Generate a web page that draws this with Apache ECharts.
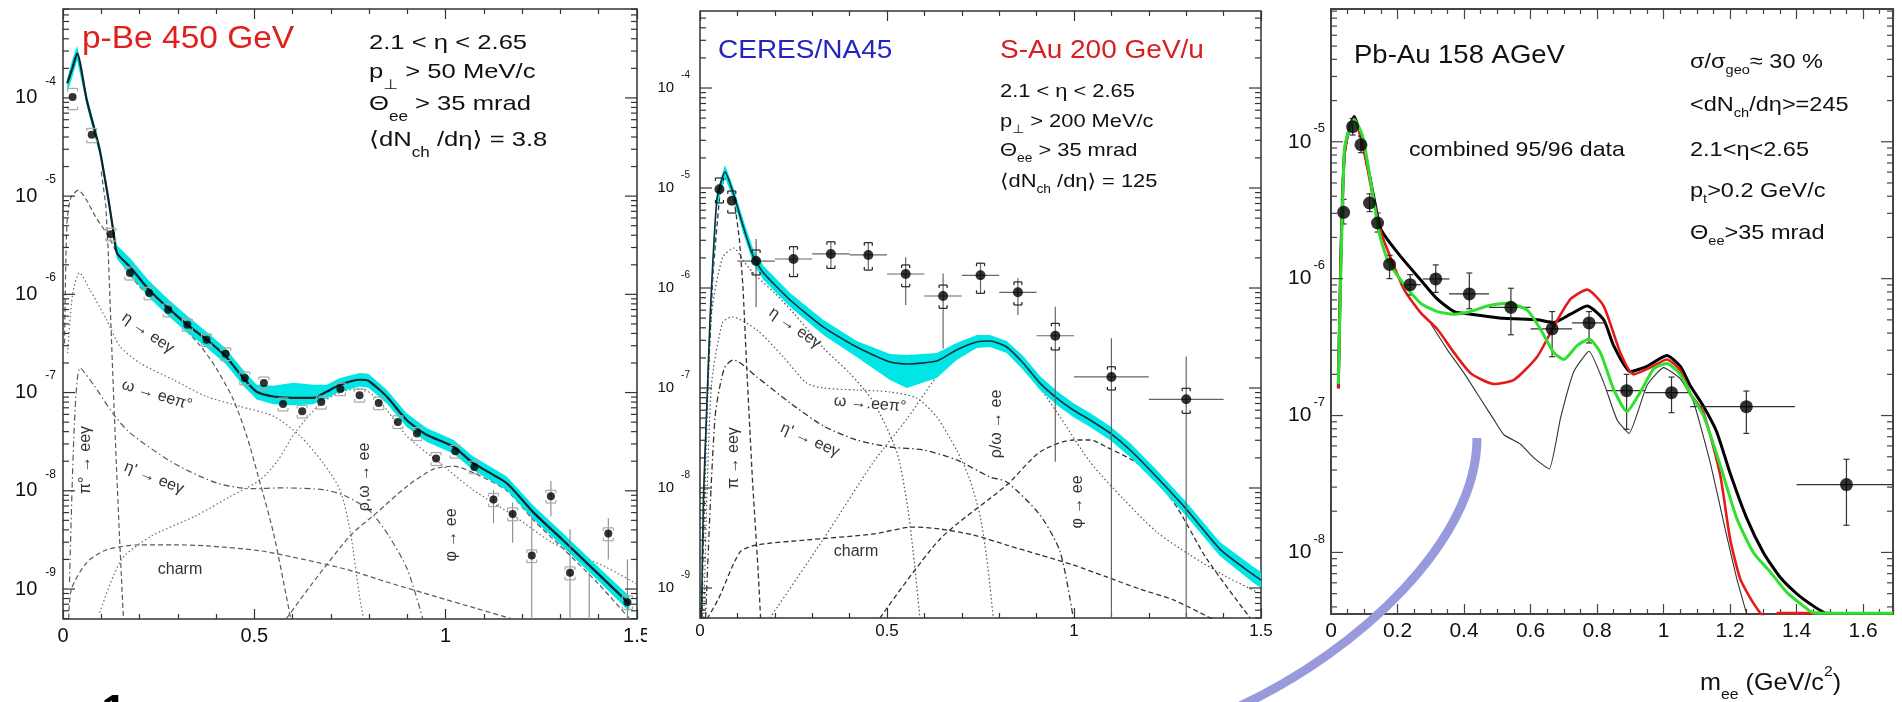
<!DOCTYPE html>
<html><head><meta charset="utf-8">
<script src="https://cdn.jsdelivr.net/npm/echarts@6/dist/echarts.min.js"></script>
<style>html,body{margin:0;padding:0;background:#fff;}#c{width:1902px;height:702px;}</style>
</head><body><div id="c"></div>
<script>
// ---------------- Panel 1 : p-Be 450 GeV ----------------
const p1X = [0.025,0.075,0.125,0.175,0.225,0.275,0.325,0.375,0.425,0.475,0.525,0.575,0.625,0.675,0.725,0.775,0.825,0.875,0.925,0.975,1.025,1.075,1.125,1.175,1.225,1.275,1.325,1.375,1.425,1.475];
const p1Y = [1.02e-4,4.21e-5,4.10e-6,1.65e-6,1.03e-6,6.97e-7,4.90e-7,3.45e-7,2.49e-7,1.41e-7,1.25e-7,7.66e-8,6.46e-8,8.02e-8,1.09e-7,9.38e-8,7.83e-8,5.02e-8,3.82e-8,2.13e-8,2.52e-8,1.75e-8,8.13e-9,5.82e-9,2.19e-9,8.79e-9,1.46e-9,3.0e-10,3.67e-9,7.35e-10];
const p1SysHi = [1.25e-4,4.9e-5,4.7e-6,1.9e-6,1.18e-6,8.0e-7,5.6e-7,3.95e-7,2.85e-7,1.62e-7,1.44e-7,8.8e-8,7.4e-8,9.2e-8,1.25e-7,1.08e-7,9.0e-8,5.8e-8,4.4e-8,2.45e-8,2.9e-8,2.0e-8,9.4e-9,6.7e-9,2.5e-9,1.01e-8,1.68e-9,null,4.2e-9,8.5e-10];
const p1SysLo = [7.6e-5,3.5e-5,3.5e-6,1.4e-6,8.8e-7,5.9e-7,4.2e-7,2.95e-7,2.12e-7,1.2e-7,1.07e-7,6.5e-8,5.5e-8,6.8e-8,9.3e-8,8.0e-8,6.7e-8,4.3e-8,3.25e-8,1.81e-8,2.15e-8,1.49e-8,6.9e-9,4.95e-9,1.86e-9,7.5e-9,1.24e-9,null,3.1e-9,6.2e-10];
const p1StatHi = [null,null,null,null,null,null,null,null,null,null,null,null,null,null,null,null,null,null,null,null,null,null,1.02e-8,7.59e-9,5.5e-9,1.26e-8,4.07e-9,1.48e-9,5.25e-9,2.0e-9];
const p1StatLo = [null,null,null,null,null,null,null,null,null,null,null,null,null,null,null,null,null,null,null,null,null,null,4.68e-9,2.95e-9,1e-10,5.5e-9,1e-10,1e-10,2.0e-9,1e-10];
const p1TotX = [0.011,0.025,0.037,0.062,0.096,0.119,0.132,0.141,0.175,0.224,0.275,0.325,0.375,0.425,0.471,0.506,0.55,0.602,0.654,0.689,0.724,0.776,0.798,0.846,0.898,0.95,1.02,1.072,1.159,1.229,1.306,1.40,1.48];
const p1Tot = [1.41e-4,2.04e-4,2.85e-4,9.55e-5,2.95e-5,9.12e-6,4.27e-6,2.63e-6,1.91e-6,1.12e-6,7.24e-7,4.90e-7,3.47e-7,2.34e-7,1.41e-7,1.02e-7,9.12e-8,8.81e-8,8.81e-8,1.02e-7,1.20e-7,1.35e-7,1.32e-7,9.12e-8,5.25e-8,3.72e-8,2.82e-8,1.91e-8,1.20e-8,6.03e-9,3.16e-9,1.41e-9,7.08e-10];
const p1BandLo = [1.12e-4,1.66e-4,2.40e-4,8.32e-5,2.63e-5,8.13e-6,3.80e-6,2.29e-6,1.58e-6,9.33e-7,6.03e-7,4.07e-7,2.88e-7,1.95e-7,1.17e-7,8.51e-8,7.59e-8,7.41e-8,7.59e-8,8.71e-8,1.02e-7,1.15e-7,1.12e-7,7.76e-8,4.47e-8,3.16e-8,2.40e-8,1.62e-8,1.02e-8,5.13e-9,2.69e-9,1.20e-9,5.89e-10];
const p1BandHi = [1.58e-4,2.51e-4,3.39e-4,1.07e-4,3.31e-5,1.02e-5,4.79e-6,3.16e-6,2.34e-6,1.38e-6,8.91e-7,6.03e-7,4.17e-7,2.82e-7,1.70e-7,1.20e-7,1.17e-7,1.26e-7,1.20e-7,1.20e-7,1.41e-7,1.58e-7,1.55e-7,1.07e-7,6.17e-8,4.37e-8,3.31e-8,2.24e-8,1.41e-8,7.08e-9,3.72e-9,1.66e-9,8.51e-10];
const p1Pi0X = [0.10,0.112,0.118,0.128,0.138,0.148,0.158];
const p1Pi0 = [1.78e-5,7.94e-6,2.82e-6,2.51e-7,2.51e-8,3.16e-9,5.01e-10];
const p1EtaX = [0.004,0.01,0.02,0.04,0.06,0.085,0.119,0.15,0.2,0.28,0.358,0.40,0.445,0.48,0.515,0.55,0.585,0.6];
const p1Eta = [3.16e-7,5.01e-6,9.55e-6,1.15e-5,9.33e-6,6.17e-6,3.89e-6,2.24e-6,1.20e-6,6.31e-7,3.02e-7,1.78e-7,8.51e-8,3.63e-8,1.20e-8,3.72e-9,7.94e-10,3.98e-10];
const p1OmDX = [0.012,0.025,0.043,0.07,0.114,0.149,0.201,0.288,0.375,0.462,0.55,0.619,0.68,0.724,0.75,0.776,0.79];
const p1OmD = [2.51e-7,1.0e-6,1.66e-6,1.12e-6,5.50e-7,2.95e-7,2.0e-7,1.35e-7,9.12e-8,7.24e-8,5.75e-8,3.63e-8,1.91e-8,1.02e-8,3.98e-9,7.94e-10,3.98e-10];
const p1EtapX = [0.017,0.03,0.045,0.08,0.13,0.175,0.289,0.402,0.493,0.572,0.685,0.742,0.8,0.85,0.9,0.94];
const p1Etap = [1.17e-9,5.01e-8,1.78e-7,1.20e-7,6.17e-8,3.89e-8,1.91e-8,1.20e-8,1.05e-8,1.07e-8,1.02e-8,8.71e-9,6.31e-9,3.55e-9,1.58e-9,5.01e-10];
const p1RhoX = [0.096,0.153,0.232,0.345,0.436,0.515,0.56,0.606,0.674,0.73,0.78,0.83,0.898,0.985,1.072,1.18,1.28,1.42,1.5];
const p1Rho = [5.75e-10,2.0e-9,3.47e-9,5.50e-9,8.71e-9,1.29e-8,2.0e-8,3.89e-8,7.76e-8,1.02e-7,1.10e-7,7.94e-8,3.63e-8,1.91e-8,1.02e-8,5.50e-9,2.95e-9,1.66e-9,1.12e-9];
const p1PhiX = [0.584,0.65,0.75,0.821,0.9,0.968,1.02,1.08,1.16,1.23,1.31,1.4,1.48];
const p1Phi = [5.01e-10,1.12e-9,3.47e-9,6.03e-9,1.12e-8,1.66e-8,1.78e-8,1.48e-8,1.0e-8,5.01e-9,2.51e-9,1.12e-9,5.01e-10];
const p1CharmX = [0.015,0.022,0.062,0.114,0.2,0.289,0.375,0.515,0.629,0.742,0.855,0.968,1.082,1.17];
const p1Charm = [5.01e-10,1.0e-9,1.86e-9,2.51e-9,2.82e-9,2.82e-9,2.75e-9,2.45e-9,2.0e-9,1.58e-9,1.15e-9,8.51e-10,6.31e-10,5.01e-10];
const p1TickExps = [-10,-9,-8,-7,-6,-5,-4,-3];

// ---------------- Panel 2 : S-Au 200 GeV/u ----------------
const p2X = [0.052,0.085,0.15,0.25,0.35,0.45,0.55,0.65,0.75,0.85,0.95,1.1,1.3];
const p2Y = [9.7e-6,7.46e-6,1.86e-6,1.95e-6,2.19e-6,2.14e-6,1.38e-6,8.32e-7,1.34e-6,9.06e-7,3.33e-7,1.29e-7,7.71e-8];
const p2XLo = [null,null,0.1,0.2,0.3,0.4,0.5,0.6,0.7,0.8,0.9,1.0,1.2];
const p2XHi = [null,null,0.2,0.3,0.4,0.5,0.6,0.7,0.8,0.9,1.0,1.2,1.4];
const p2StatLo = [null,null,6.46e-7,1.30e-6,1.57e-6,1.51e-6,6.76e-7,2.49e-7,8.85e-7,5.37e-7,1.83e-8,1e-10,1e-10];
const p2StatHi = [null,null,3.09e-6,2.59e-6,2.90e-6,2.84e-6,2.03e-6,1.40e-6,1.77e-6,1.25e-6,6.50e-7,3.14e-7,2.06e-7];
const p2SysLo = [7.08e-6,5.62e-6,1.35e-6,1.30e-6,1.57e-6,1.51e-6,1.03e-6,6.26e-7,8.85e-7,6.76e-7,2.40e-7,9.55e-8,5.58e-8];
const p2SysHi = [1.26e-5,9.33e-6,2.40e-6,2.59e-6,2.90e-6,2.84e-6,1.70e-6,1.07e-6,1.77e-6,1.15e-6,4.43e-7,1.63e-7,9.93e-8];
const p2TotX = [0.004,0.009,0.018,0.027,0.045,0.067,0.089,0.116,0.143,0.17,0.241,0.33,0.419,0.508,0.553,0.633,0.686,0.74,0.775,0.82,0.864,0.909,0.954,0.998,1.043,1.096,1.15,1.221,1.30,1.39,1.48,1.5];
const p2Tot = [5.01e-10,7.59e-9,6.31e-8,5.13e-7,7.59e-6,1.45e-5,8.91e-6,4.07e-6,2.04e-6,1.41e-6,7.59e-7,4.07e-7,2.57e-7,1.82e-7,1.74e-7,1.86e-7,2.40e-7,2.88e-7,2.95e-7,2.57e-7,1.78e-7,1.12e-7,7.94e-8,6.03e-8,4.79e-8,3.55e-8,2.40e-8,1.29e-8,6.17e-9,2.45e-9,1.35e-9,1.20e-9];
const p2BandLo = [3.98e-10,5.62e-9,5.01e-8,4.17e-7,6.31e-6,1.26e-5,7.76e-6,3.47e-6,1.74e-6,1.20e-6,6.46e-7,3.39e-7,2.04e-7,1.20e-7,1.0e-7,1.26e-7,1.91e-7,2.51e-7,2.57e-7,2.24e-7,1.51e-7,9.55e-8,6.76e-8,5.13e-8,4.07e-8,3.02e-8,2.04e-8,1.10e-8,5.25e-9,2.09e-9,1.12e-9,1.0e-9];
const p2BandHi = [6.31e-10,1.0e-8,7.94e-8,6.31e-7,9.12e-6,1.70e-5,1.02e-5,4.79e-6,2.40e-6,1.66e-6,8.91e-7,4.79e-7,2.95e-7,2.19e-7,2.14e-7,2.24e-7,2.82e-7,3.39e-7,3.39e-7,2.95e-7,2.09e-7,1.32e-7,9.33e-8,7.08e-8,5.62e-8,4.17e-8,2.82e-8,1.51e-8,7.24e-9,2.88e-9,1.62e-9,1.45e-9];
const p2Pi0X = [0.005,0.012,0.02,0.035,0.055,0.07,0.09,0.105,0.115,0.125,0.14,0.155,0.162];
const p2Pi0 = [5.01e-10,1.26e-8,8.91e-8,1.41e-6,1.0e-5,1.26e-5,7.94e-6,3.16e-6,1.0e-6,1.58e-7,1.26e-8,1.58e-9,5.01e-10];
const p2EtaX = [0.01,0.03,0.06,0.09,0.12,0.15,0.2,0.25,0.33,0.40,0.464,0.526,0.553,0.57,0.588];
const p2Eta = [3.16e-9,5.01e-7,2.0e-6,2.51e-6,1.78e-6,1.32e-6,8.91e-7,5.62e-7,2.51e-7,1.41e-7,7.24e-8,2.29e-8,7.24e-9,2.29e-9,5.01e-10];
const p2OmDX = [0.01,0.03,0.06,0.085,0.152,0.223,0.285,0.33,0.419,0.508,0.579,0.633,0.686,0.72,0.75,0.77,0.784];
const p2OmD = [5.01e-10,1.0e-7,4.47e-7,5.13e-7,3.80e-7,2.04e-7,1.12e-7,1.0e-7,9.55e-8,9.12e-8,7.94e-8,5.13e-8,2.40e-8,1.26e-8,5.01e-9,1.58e-9,5.01e-10];
const p2EtapX = [0.015,0.04,0.065,0.089,0.152,0.241,0.33,0.419,0.508,0.597,0.686,0.775,0.82,0.909,0.963,0.998];
const p2Etap = [5.01e-10,5.01e-8,1.58e-7,1.91e-7,1.29e-7,7.08e-8,4.17e-8,3.02e-8,2.57e-8,2.40e-8,1.91e-8,1.29e-8,1.15e-8,5.37e-9,2.29e-9,5.01e-10];
const p2RhoX = [0.187,0.33,0.464,0.553,0.642,0.70,0.758,0.80,0.864,0.954,1.043,1.132,1.221,1.31,1.399,1.489];
const p2Rho = [5.01e-10,3.09e-9,1.82e-8,4.90e-8,1.45e-7,2.40e-7,2.82e-7,2.63e-7,1.66e-7,5.75e-8,1.82e-8,7.76e-9,3.63e-9,2.14e-9,1.35e-9,9.12e-10];
const p2PhiX = [0.481,0.642,0.82,0.909,0.998,1.043,1.087,1.176,1.266,1.355,1.471];
const p2Phi = [5.01e-10,3.09e-9,1.07e-8,2.29e-8,3.02e-8,3.02e-8,2.57e-8,1.70e-8,7.24e-9,1.95e-9,5.01e-10];
const p2CharmX = [0.008,0.049,0.107,0.151,0.285,0.464,0.57,0.642,0.731,0.82,0.909,0.998,1.087,1.176,1.266,1.37];
const p2Charm = [4.17e-10,7.76e-10,2.29e-9,2.69e-9,3.02e-9,3.47e-9,4.07e-9,3.89e-9,3.39e-9,2.69e-9,2.14e-9,1.70e-9,1.29e-9,9.77e-10,7.59e-10,4.90e-10];
const p2TickExps = [-10,-9,-8,-7,-6,-5,-4,-3];

// ---------------- Panel 3 : Pb-Au 158 AGeV ----------------
const p3X = [0.038,0.065,0.09,0.116,0.14,0.176,0.238,0.315,0.416,0.541,0.665,0.776,0.889,1.024,1.249,1.55];
const p3Y = [3.05e-6,1.29e-5,9.51e-6,3.57e-6,2.55e-6,1.27e-6,9.04e-7,9.95e-7,7.73e-7,6.17e-7,4.30e-7,4.75e-7,1.52e-7,1.47e-7,1.16e-7,3.13e-8];
const p3Lo = [2.51e-6,1.12e-5,8.32e-6,3.09e-6,2.19e-6,1.0e-6,7.59e-7,7.94e-7,6.03e-7,3.89e-7,2.69e-7,3.39e-7,7.94e-8,1.05e-7,7.41e-8,1.58e-8];
const p3Hi = [3.80e-6,1.48e-5,1.10e-5,4.17e-6,3.02e-6,1.48e-6,1.07e-6,1.26e-6,1.10e-6,8.51e-7,5.75e-7,5.75e-7,2.0e-7,1.91e-7,1.51e-7,4.79e-8];
const p3XLo = [null,null,null,null,null,null,0.21,0.276,0.355,0.475,0.6,0.725,0.83,0.945,1.08,1.40];
const p3XHi = [null,null,null,null,null,null,0.27,0.356,0.475,0.6,0.725,0.83,0.945,1.08,1.395,1.70];
const p3BlackX = [0.022,0.03,0.04,0.055,0.07,0.1,0.13,0.15,0.2,0.27,0.32,0.37,0.42,0.52,0.62,0.67,0.72,0.77,0.82,0.85,0.90,0.95,1.01,1.05,1.08,1.12,1.16,1.2,1.25,1.3,1.35,1.4,1.45,1.49];
const p3Black = [1.58e-7,1.58e-6,7.94e-6,1.26e-5,1.53e-5,8.71e-6,3.80e-6,2.29e-6,1.55e-6,9.77e-7,7.08e-7,5.75e-7,5.50e-7,5.13e-7,5.01e-7,4.79e-7,5.50e-7,6.31e-7,5.01e-7,3.24e-7,2.09e-7,2.29e-7,2.75e-7,2.29e-7,1.66e-7,1.17e-7,7.59e-8,3.80e-8,1.78e-8,1.0e-8,6.61e-9,5.01e-9,4.07e-9,3.55e-9];
const p3RedX = [0.022,0.03,0.04,0.055,0.07,0.1,0.13,0.15,0.17,0.22,0.27,0.32,0.37,0.42,0.49,0.55,0.62,0.67,0.72,0.77,0.82,0.87,0.91,0.96,1.01,1.05,1.08,1.12,1.17,1.20,1.23,1.26,1.29,1.31];
const p3Red = [1.58e-7,1.58e-6,7.94e-6,1.26e-5,1.48e-5,8.32e-6,3.55e-6,2.19e-6,1.62e-6,8.32e-7,5.62e-7,4.27e-7,2.88e-7,2.04e-7,1.70e-7,1.82e-7,2.69e-7,4.47e-7,7.08e-7,8.32e-7,6.31e-7,2.88e-7,2.0e-7,2.24e-7,2.57e-7,2.14e-7,1.45e-7,1.05e-7,3.72e-8,1.26e-8,6.46e-9,4.68e-9,3.63e-9,3.16e-9];
const p3RedFlatX = [1.34,1.50];
const p3RedFlat = [3.6e-9,3.6e-9];
const p3GreenX = [0.022,0.04,0.055,0.07,0.095,0.12,0.145,0.17,0.21,0.27,0.32,0.37,0.42,0.47,0.53,0.59,0.63,0.67,0.70,0.74,0.776,0.81,0.85,0.89,0.93,0.97,1.01,1.05,1.08,1.12,1.17,1.22,1.27,1.32,1.37,1.42,1.45,1.5,1.69];
const p3Green = [1.70e-7,8.71e-6,1.23e-5,1.45e-5,1.10e-5,5.01e-6,2.14e-6,1.38e-6,9.77e-7,6.61e-7,5.75e-7,5.50e-7,5.75e-7,6.31e-7,6.61e-7,5.89e-7,4.27e-7,2.88e-7,2.57e-7,3.24e-7,3.63e-7,2.88e-7,1.55e-7,1.07e-7,1.48e-7,2.19e-7,2.40e-7,2.0e-7,1.45e-7,1.0e-7,4.37e-8,1.78e-8,1.0e-8,7.24e-9,5.13e-9,4.07e-9,3.63e-9,3.6e-9,3.6e-9];
const p3ThinX = [0.30,0.35,0.40,0.45,0.49,0.52,0.57,0.61,0.656,0.69,0.73,0.776,0.82,0.86,0.896,0.95,1.0,1.05,1.09,1.14,1.19,1.22,1.25];
const p3Thin = [4.68e-7,3.02e-7,2.04e-7,1.32e-7,9.33e-8,7.24e-8,6.17e-8,4.90e-8,4.07e-8,9.55e-8,2.09e-7,2.95e-7,1.74e-7,9.33e-8,7.41e-8,1.66e-7,2.24e-7,1.86e-7,1.26e-7,4.57e-8,1.32e-8,6.46e-9,3.55e-9];
const p3TickExps = [-9,-8,-7,-6,-5,-4];

// ---------------- helpers ----------------
const FF = '"Liberation Sans", Arial, "DejaVu Sans", sans-serif';
const DASH = [5,3], DOT = [1.5,2.5], DASHDOT = [6,3,1.5,3];
function zip(xs, ys){ return xs.map((x,i)=>[x, ys[i]]); }
function curve(gi, xs, ys, color, width, dash, z, smooth){
  return {type:'line', xAxisIndex:gi*2, yAxisIndex:gi, data:zip(xs,ys), symbol:'none', showSymbol:false,
    smooth:(smooth===undefined?0.25:smooth), clip:true, silent:true, z:z||2,
    lineStyle:{color:color, width:width, type:dash||'solid'}};
}
function bandSeries(gi, xs, lo, hi, color){
  return {type:'custom', xAxisIndex:gi*2, yAxisIndex:gi, data:[[xs[0], hi[0]]], clip:true, silent:true, z:3,
    renderItem:function(params, api){
      const cs = params.coordSys;
      const cy = v => Math.max(cs.y, Math.min(cs.y+cs.height, v));
      const pts = [];
      xs.forEach((x,i)=>{ const p = api.coord([x, hi[i]]); pts.push([p[0], cy(p[1])]); });
      for(let i=xs.length-1;i>=0;i--){ const p = api.coord([xs[i], lo[i]]); pts.push([p[0], cy(p[1])]); }
      return {type:'polygon', shape:{points:pts}, style:{fill:color}};
    }};
}
function errSeries(gi, rows, cfg){
  return {type:'custom', xAxisIndex:gi*2, yAxisIndex:gi, data:rows, clip:true, silent:true, z:5,
    renderItem:function(params, api){
      const cs = params.coordSys;
      const cy = v => Math.max(cs.y, Math.min(cs.y+cs.height, v));
      const cx = v => Math.max(cs.x, Math.min(cs.x+cs.width, v));
      const x=api.value(0), y=api.value(1), lo=api.value(2), hi=api.value(3), xl=api.value(4), xh=api.value(5), sl=api.value(6), sh=api.value(7);
      const p = api.coord([x,y]); const ch = [];
      const L = (x1,y1,x2,y2,st)=>ch.push({type:'line', shape:{x1:x1,y1:y1,x2:x2,y2:y2}, style:st});
      const sst = {stroke:cfg.statColor, lineWidth:cfg.statW};
      if(lo>0 && hi>0){
        const a = cy(api.coord([x,hi])[1]), b = cy(api.coord([x,lo])[1]);
        L(p[0],a,p[0],b,sst);
        if(cfg.cap){ L(p[0]-cfg.cap,a,p[0]+cfg.cap,a,sst); L(p[0]-cfg.cap,b,p[0]+cfg.cap,b,sst); }
      }
      if(xl>=0 && xh>0 && p[1]>=cs.y && p[1]<=cs.y+cs.height){
        const a = cx(api.coord([xl,y])[0]), b = cx(api.coord([xh,y])[0]);
        L(a,p[1],b,p[1],sst);
      }
      if(sl>0 && sh>0){
        const a = api.coord([x,sh])[1], b = api.coord([x,sl])[1];
        const w = cfg.sysW, t = cfg.sysLeg, bst = {stroke:cfg.sysColor, lineWidth:1.2};
        L(p[0]-w,a,p[0]+w,a,bst); L(p[0]-w,a,p[0]-w,a+t,bst); L(p[0]+w,a,p[0]+w,a+t,bst);
        L(p[0]-w,b,p[0]+w,b,bst); L(p[0]-w,b,p[0]-w,b-t,bst); L(p[0]+w,b,p[0]+w,b-t,bst);
      }
      return {type:'group', children:ch};
    }};
}
function yTickSeries(gi, xv, yv, exps, color){
  return {type:'custom', xAxisIndex:gi*2, yAxisIndex:gi, data:[[xv, yv]], silent:true, z:10,
    renderItem:function(params, api){
      const cs = params.coordSys; const ch = [];
      exps.forEach(e=>{
        for(let k=1;k<=9;k++){
          const y = api.coord([xv, k*Math.pow(10,e)])[1];
          if(y < cs.y-0.5 || y > cs.y+cs.height+0.5) continue;
          const len = (k===1)?12:6;
          ch.push({type:'line', shape:{x1:cs.x, y1:y, x2:cs.x+len, y2:y}, style:{stroke:color, lineWidth:1.2}});
          ch.push({type:'line', shape:{x1:cs.x+cs.width, y1:y, x2:cs.x+cs.width-len, y2:y}, style:{stroke:color, lineWidth:1.2}});
        }
      });
      return {type:'group', children:ch};
    }};
}
function scatter(gi, xs, ys, size){
  return {type:'scatter', xAxisIndex:gi*2, yAxisIndex:gi, data:zip(xs,ys), symbol:'circle', symbolSize:size,
    itemStyle:{color:'#000'}, clip:true, silent:true, z:6};
}
function xAx(gi, max, interval, minorSplit, fs, pos, showLabel, margin, showMax, color){
  return {type:'value', gridIndex:gi, position:pos, min:0, max:max, interval:interval,
    axisLine:{show:false}, splitLine:{show:false},
    axisTick:{show:true, inside:true, length:10, lineStyle:{color:color, width:1.2}},
    minorTick:{show:true, splitNumber:minorSplit, length:5, lineStyle:{color:color, width:1.2}},
    minorSplitLine:{show:false},
    axisLabel:{show:showLabel, fontSize:fs, fontFamily:FF, color:'#111', margin:margin, showMinLabel:true, showMaxLabel:showMax}};
}
function yAx(gi, min, max, fs, sup, gap, margin, lh){
  return {type:'log', logBase:10, gridIndex:gi, min:min, max:max,
    axisLine:{show:false}, axisTick:{show:false}, splitLine:{show:false}, minorTick:{show:false},
    axisLabel:{margin:margin, showMinLabel:false, showMaxLabel:false,
      formatter:function(v){ return '{b|10}{s|' + Math.round(Math.log10(v)) + '}'; },
      rich:{b:{fontSize:fs, fontFamily:FF, color:'#111', lineHeight:lh},
            s:{fontSize:sup, fontFamily:FF, color:'#111', verticalAlign:'top', padding:[0,0,0,gap]}}}};
}
function txt(x, y, text, o){
  o = o || {};
  const col = o.color || '#111';
  const rich = {
    n:{fontSize:o.size, fontFamily:FF, fill:col, lineHeight:o.lh || Math.round(o.size*1.3)},
    s:{fontSize:o.sub || 12, fontFamily:FF, fill:col, verticalAlign:'bottom'},
    p:{fontSize:o.sub || 12, fontFamily:FF, fill:col, verticalAlign:'top'}
  };
  return {type:'text', x:x, y:y, rotation:o.rot || 0, scaleX:o.sx || 1, z:100, silent:true,
    style:{text:text, rich:rich, fontSize:o.size, fontFamily:FF, fill:col,
      align:o.align || 'left', verticalAlign:'middle', textAlign:o.align || 'left', textVerticalAlign:'middle'}};
}
const RAD = Math.PI/180;
const rows1 = p1X.map((x,i)=>[x, p1Y[i], p1StatLo[i], p1StatHi[i], null, null, p1SysLo[i], p1SysHi[i]]);
const rows2 = p2X.map((x,i)=>[x, p2Y[i], p2StatLo[i], p2StatHi[i], p2XLo[i], p2XHi[i], p2SysLo[i], p2SysHi[i]]);
const rows3 = p3X.map((x,i)=>[x, p3Y[i], p3Lo[i], p3Hi[i], p3XLo[i], p3XHi[i], null, null]);

const C1 = '#5a5a5a', C2 = '#333333';
const CYAN = '#00e6e6';

const option = {
  animation:false,
  backgroundColor:'#ffffff',
  grid:[
    {left:63, top:9, width:574, height:610, show:true, borderColor:'#333', borderWidth:1.5, backgroundColor:'rgba(0,0,0,0)'},
    {left:700, top:11, width:561, height:607, show:true, borderColor:'#333', borderWidth:1.5, backgroundColor:'rgba(0,0,0,0)'},
    {left:1331, top:9, width:562, height:605, show:true, borderColor:'#444', borderWidth:2, backgroundColor:'rgba(0,0,0,0)'}
  ],
  xAxis:[
    xAx(0, 1.5, 0.5, 5, 20, 'bottom', true, 7, true, '#333'),
    xAx(0, 1.5, 0.5, 5, 20, 'top', false, 7, true, '#333'),
    xAx(1, 1.5, 0.5, 5, 17, 'bottom', true, 5, true, '#333'),
    xAx(1, 1.5, 0.5, 5, 17, 'top', false, 5, true, '#333'),
    xAx(2, 1.69, 0.2, 4, 21, 'bottom', true, 7, false, '#444'),
    xAx(2, 1.69, 0.2, 4, 21, 'top', false, 7, false, '#444')
  ],
  yAxis:[
    yAx(0, 4.95e-10, 8.04e-4, 20, 12, 8, 7, 45),
    yAx(1, 5.01e-10, 5.89e-4, 15, 10, 7, 10, 36),
    yAx(2, 3.55e-9, 9.33e-5, 21, 13, 2, 6, 40)
  ],
  series:[
    // panel 1
    curve(0, p1CharmX, p1Charm, C1, 1.2, DASH, 2),
    curve(0, p1PhiX, p1Phi, C1, 1.2, DASH, 2),
    curve(0, p1RhoX, p1Rho, '#6a6a6a', 1.2, DOT, 2),
    curve(0, p1EtapX, p1Etap, C1, 1.2, DASHDOT, 2),
    curve(0, p1OmDX, p1OmD, '#6a6a6a', 1.2, DOT, 2),
    curve(0, p1EtaX, p1Eta, C1, 1.2, DASH, 2),
    curve(0, p1Pi0X, p1Pi0, C1, 1.2, DASH, 2, 0),
    bandSeries(0, p1TotX, p1BandLo, p1BandHi, CYAN),
    curve(0, p1TotX, p1Tot, '#10242a', 2.2, 'solid', 4, 0.2),
    errSeries(0, rows1, {statColor:'#8a8a8a', statW:1.1, sysColor:'#a8a8a8', sysW:5, sysLeg:3}),
    scatter(0, p1X, p1Y, 8),
    yTickSeries(0, 0.5, 1e-6, p1TickExps, '#333'),
    // panel 2
    curve(1, p2CharmX, p2Charm, C2, 1.3, DASH, 2),
    curve(1, p2PhiX, p2Phi, C2, 1.3, DASH, 2),
    curve(1, p2RhoX, p2Rho, '#555', 1.2, DOT, 2),
    curve(1, p2EtapX, p2Etap, C2, 1.3, DASHDOT, 2),
    curve(1, p2OmDX, p2OmD, '#555', 1.2, DOT, 2),
    curve(1, p2EtaX, p2Eta, '#555', 1.3, DOT, 2),
    curve(1, p2Pi0X, p2Pi0, C2, 1.3, DASH, 2, 0.1),
    bandSeries(1, p2TotX, p2BandLo, p2BandHi, CYAN),
    curve(1, p2TotX, p2Tot, '#10303a', 1.6, 'solid', 4, 0.2),
    errSeries(1, rows2, {statColor:'#666', statW:1.2, sysColor:'#222', sysW:4, sysLeg:3}),
    scatter(1, p2X, p2Y, 10),
    yTickSeries(1, 0.5, 1e-6, p2TickExps, '#333'),
    // panel 3
    curve(2, p3ThinX, p3Thin, '#333', 1.1, 'solid', 2, 0.15),
    curve(2, p3BlackX, p3Black, '#000', 3, 'solid', 3, 0.2),
    curve(2, p3RedX, p3Red, '#e31b1b', 2.6, 'solid', 4, 0.2),
    curve(2, p3RedFlatX, p3RedFlat, '#e31b1b', 2.6, 'solid', 4, 0),
    curve(2, p3GreenX, p3Green, '#2fe02f', 3, 'solid', 5, 0.2),
    errSeries(2, rows3, {statColor:'#333', statW:1.2, cap:3, sysColor:'#333', sysW:0, sysLeg:0}),
    scatter(2, p3X, p3Y, 13),
    yTickSeries(2, 0.5, 1e-6, p3TickExps, '#444')
  ],
  graphic:{elements:[
    // panel 1 texts
    txt(82, 39, 'p-Be 450 GeV', {size:31, color:'#e0201c', sx:1.08}),
    txt(369, 43, '{n|2.1 < η < 2.65}', {size:21, sub:14, lh:40, sx:1.22}),
    txt(369, 72, '{n|p}{s|⊥}{n| > 50 MeV/c}', {size:21, sub:14, lh:40, sx:1.22}),
    txt(369, 104, '{n|Θ}{s|ee}{n| > 35 mrad}', {size:21, sub:14, lh:40, sx:1.22}),
    txt(369, 140, '{n|⟨dN}{s|ch}{n| /dη⟩ = 3.8}', {size:21, sub:14, lh:40, sx:1.22}),
    txt(148, 333, 'η → eeγ', {size:16, color:'#333', align:'center', rot:-35*RAD}),
    txt(157, 395, 'ω → eeπ°', {size:16, color:'#333', align:'center', rot:-17*RAD}),
    txt(154, 478, "η' → eeγ", {size:16, color:'#333', align:'center', rot:-22*RAD}),
    txt(86, 460, 'π° → eeγ', {size:16, color:'#333', align:'center', rot:90*RAD}),
    txt(365, 477, 'ρ,ω → ee', {size:16, color:'#333', align:'center', rot:90*RAD}),
    txt(452, 535, 'φ → ee', {size:16, color:'#333', align:'center', rot:90*RAD}),
    txt(180, 570, 'charm', {size:16, color:'#333', align:'center'}),
    // panel 2 texts
    txt(718, 51, 'CERES/NA45', {size:25, color:'#2424c0', sx:1.12}),
    txt(1000, 51, 'S-Au 200 GeV/u', {size:25, color:'#d81e1e', sx:1.12}),
    txt(1000, 92, '{n|2.1 < η < 2.65}', {size:19, sub:12, lh:28, sx:1.15}),
    txt(1000, 122, '{n|p}{s|⊥}{n| > 200 MeV/c}', {size:19, sub:12, lh:28, sx:1.15}),
    txt(1000, 151, '{n|Θ}{s|ee}{n| > 35 mrad}', {size:19, sub:12, lh:28, sx:1.15}),
    txt(1000, 182, '{n|⟨dN}{s|ch}{n| /dη⟩ = 125}', {size:19, sub:12, lh:28, sx:1.15}),
    txt(795, 328, 'η → eeγ', {size:16, color:'#333', align:'center', rot:-35*RAD}),
    txt(870, 404, 'ω →.eeπ°', {size:16, color:'#333', align:'center', rot:-5*RAD}),
    txt(810, 440, "η' → eeγ", {size:16, color:'#333', align:'center', rot:-24*RAD}),
    txt(734, 458, 'π → eeγ', {size:16, color:'#333', align:'center', rot:90*RAD}),
    txt(997, 424, 'ρ/ω → ee', {size:16, color:'#333', align:'center', rot:90*RAD}),
    txt(1078, 502, 'φ → ee', {size:16, color:'#333', align:'center', rot:90*RAD}),
    txt(856, 552, 'charm', {size:16, color:'#333', align:'center'}),
    // panel 3 texts
    txt(1354, 56, 'Pb-Au 158 AGeV', {size:25, sx:1.1}),
    txt(1409, 150, 'combined 95/96 data', {size:21, sx:1.1}),
    txt(1690, 62, '{n|σ/σ}{s|geo}{n|≈ 30 %}', {size:21, sub:13, lh:30, sx:1.12}),
    txt(1690, 105, '{n|<dN}{s|ch}{n|/dη>=245}', {size:21, sub:13, lh:30, sx:1.12}),
    txt(1690, 150, '{n|2.1<η<2.65}', {size:21, sub:13, lh:30, sx:1.12}),
    txt(1690, 191, '{n|p}{s|t}{n|>0.2 GeV/c}', {size:21, sub:13, lh:30, sx:1.12}),
    txt(1690, 233, '{n|Θ}{s|ee}{n|>35 mrad}', {size:21, sub:13, lh:30, sx:1.12}),
    txt(1700, 683, '{n|m}{s|ee}{n| (GeV/c}{p|2}{n|)}', {size:24, sub:15, lh:38, sx:1.05}),
    // image-edge clipping of neighbouring labels
    {type:'rect', shape:{x:647, y:622, width:7, height:32}, style:{fill:'#fff'}, z:150, silent:true},
    {type:'rect', shape:{x:1278, y:60, width:11, height:540}, style:{fill:'#fff'}, z:150, silent:true},
    // decorative overlay stroke and cut-off glyph
    {type:'bezierCurve', shape:{x1:1477, y1:438, cpx1:1477, cpy1:540, cpx2:1360, cpy2:650, x2:1240, y2:706},
      style:{stroke:'#9999dd', lineWidth:9, fill:null, lineCap:'butt'}, z:200, silent:true},
    {type:'text', x:114, y:691, z:100, silent:true,
      style:{text:'1', fontSize:46, fontWeight:'bold', fontFamily:FF, fill:'#000', align:'center', verticalAlign:'top', textAlign:'center', textVerticalAlign:'top'}}
  ]}
};
const chart = echarts.init(document.getElementById('c'), null, {renderer:'canvas'});
chart.setOption(option);
</script></body></html>
